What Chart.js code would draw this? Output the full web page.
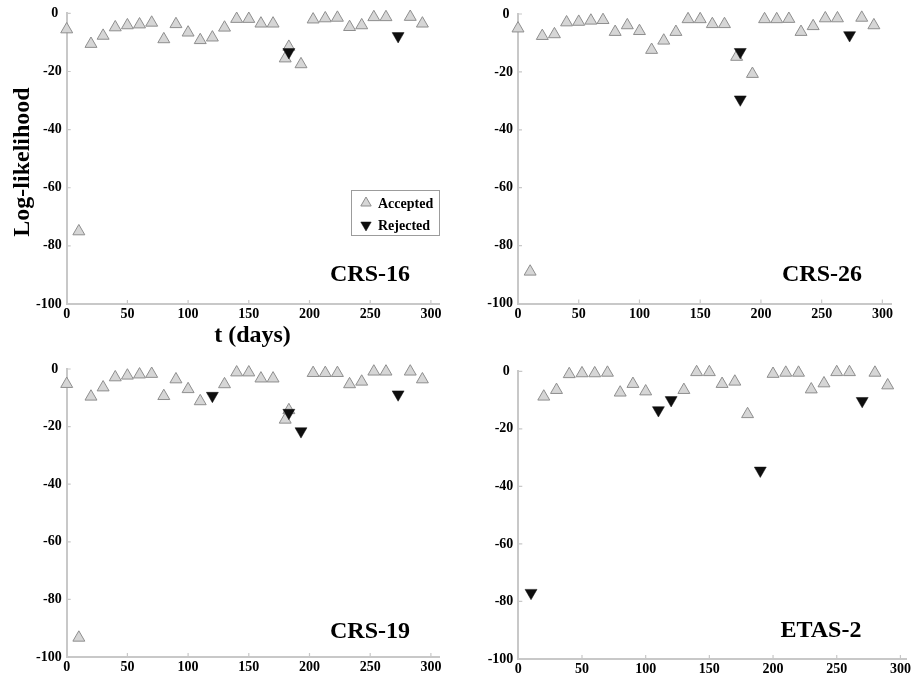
<!DOCTYPE html>
<html>
<head>
<meta charset="utf-8">
<script src="https://cdn.jsdelivr.net/npm/chart.js"></script>
<style>
  html, body { margin: 0; padding: 0; background: #ffffff; }
  #wrap { position: relative; width: 913px; height: 677px; overflow: hidden; background: #ffffff; }
  #wrap canvas { position: absolute; left: 0; top: 0; }
</style>
</head>
<body>
<div id="wrap">
  <canvas id="p1" width="913" height="677"></canvas>
  <canvas id="p2" width="913" height="677"></canvas>
  <canvas id="p3" width="913" height="677"></canvas>
  <canvas id="p4" width="913" height="677"></canvas>
</div>
<script>
// ---- data: log-likelihood of each forecast window, split by test outcome ----
const seriesLabels = ['Accepted', 'Rejected'];
const panelNames = ['CRS-16', 'CRS-26', 'CRS-19', 'ETAS-2'];
const xTicks = [0, 50, 100, 150, 200, 250, 300];
const yTicks = [-100, -80, -60, -40, -20, 0];

// CRS-16
const crs16AcceptedDays = [0, 10, 20, 30, 40, 50, 60, 70, 80, 90, 100, 110, 120, 130, 140, 150, 160, 170, 180, 183, 193, 203, 213, 223, 233, 243, 253, 263, 283, 293];
const crs16AcceptedLogL = [-5.5, -75, -10.5, -7.7, -4.8, -4.1, -3.8, -3.2, -8.9, -3.7, -6.6, -9.2, -8.3, -4.9, -1.9, -1.9, -3.5, -3.5, -15.5, -11.5, -17.5, -2.1, -1.7, -1.5, -4.7, -4.1, -1.3, -1.3, -1.2, -3.5];
const crs16RejectedDays = [183, 273];
const crs16RejectedLogL = [-13.3, -7.8];

// CRS-26
const crs26AcceptedDays = [0, 10, 20, 30, 40, 50, 60, 70, 80, 90, 100, 110, 120, 130, 140, 150, 160, 170, 180, 193, 203, 213, 223, 233, 243, 253, 263, 283, 293];
const crs26AcceptedLogL = [-5.0, -89, -7.6, -7.0, -2.9, -2.7, -2.3, -2.1, -6.2, -3.9, -5.9, -12.4, -9.2, -6.2, -1.8, -1.8, -3.5, -3.5, -14.8, -20.7, -1.8, -1.8, -1.7, -6.2, -4.2, -1.5, -1.5, -1.3, -3.9];
const crs26RejectedDays = [183, 183, 273];
const crs26RejectedLogL = [-13.1, -29.5, -7.3];

// CRS-19
const crs19AcceptedDays = [0, 10, 20, 30, 40, 50, 60, 70, 80, 90, 100, 110, 130, 140, 150, 160, 170, 180, 183, 203, 213, 223, 233, 243, 253, 263, 283, 293];
const crs19AcceptedLogL = [-5.2, -93.3, -9.6, -6.4, -2.9, -2.3, -1.9, -1.7, -9.4, -3.6, -7.0, -11.2, -5.3, -1.2, -1.2, -3.3, -3.3, -17.6, -14.3, -1.4, -1.4, -1.4, -5.3, -4.4, -0.9, -0.9, -0.9, -3.6];
const crs19RejectedDays = [120, 183, 193, 273];
const crs19RejectedLogL = [-9.3, -15.2, -21.6, -8.8];

// ETAS-2
const etas2AcceptedDays = [20, 30, 40, 50, 60, 70, 80, 90, 100, 130, 140, 150, 160, 170, 180, 200, 210, 220, 230, 240, 250, 260, 280, 290];
const etas2AcceptedLogL = [-8.8, -6.5, -1.0, -0.7, -0.7, -0.5, -7.4, -4.4, -7.0, -6.5, -0.3, -0.3, -4.4, -3.6, -14.9, -0.9, -0.5, -0.5, -6.3, -4.2, -0.3, -0.3, -0.5, -4.9];
const etas2RejectedDays = [10, 110, 120, 190, 270];
const etas2RejectedLogL = [-77, -13.5, -10.0, -34.5, -10.3];

// ---- styling ----
const FONT = '"Liberation Serif", "Times New Roman", Times, serif';
const AXIS_GREY = '#c8c8c8';
const ACC_FILL = '#d6d6d6';
const ACC_EDGE = '#8e8e8e';
const REJ_FILL = '#0e0e0e';
const MARKER_R = 6.9;
const CANVAS_W = 913, CANVAS_H = 677;
const Y_AXIS_W = 60, X_AXIS_H = 30;

function toPoints(days, values) {
  return days.map((t, i) => ({ x: t, y: values[i] }));
}

function triangle(ctx, x, y, r, rotDeg) {
  let a = rotDeg * Math.PI / 180;
  ctx.beginPath();
  for (let k = 0; k < 3; k++) {
    const px = x + Math.sin(a) * r, py = y - Math.cos(a) * r;
    if (k === 0) ctx.moveTo(px, py); else ctx.lineTo(px, py);
    a += 2 * Math.PI / 3;
  }
  ctx.closePath();
}

// inward tick marks, panel name, legend and shared axis titles
const framePlugin = {
  id: 'frame',
  beforeDatasetsDraw(chart) {
    const { ctx, chartArea: a, scales } = chart;
    ctx.save();
    ctx.strokeStyle = AXIS_GREY;
    ctx.lineWidth = 1.2;
    ctx.beginPath();
    xTicks.forEach(v => {
      const px = scales.x.getPixelForValue(v);
      ctx.moveTo(px, a.bottom);
      ctx.lineTo(px, a.bottom - 4);
    });
    yTicks.forEach(v => {
      const py = scales.y.getPixelForValue(v);
      ctx.moveTo(a.left, py);
      ctx.lineTo(a.left + 4, py);
    });
    ctx.stroke();
    ctx.restore();
  },
  afterDraw(chart, args, opts) {
    const ctx = chart.ctx;
    ctx.save();
    ctx.fillStyle = '#000';
    ctx.font = 'bold 24px ' + FONT;
    ctx.textAlign = 'center';
    ctx.textBaseline = 'alphabetic';
    ctx.fillText(opts.name, opts.nameX, opts.nameY);

    if (opts.legend) {
      const L = opts.legend;
      ctx.fillStyle = '#fff';
      ctx.fillRect(L.x, L.y, L.w, L.h);
      ctx.strokeStyle = '#9c9c9c';
      ctx.lineWidth = 1;
      ctx.strokeRect(L.x + 0.5, L.y + 0.5, L.w - 1, L.h - 1);
      chart.data.datasets.forEach((ds, i) => {
        const my = L.y + L.firstRow + i * L.rowGap;
        triangle(ctx, L.x + L.markerX, my, 6, ds.pointRotation || 0);
        ctx.fillStyle = ds.pointBackgroundColor;
        ctx.fill();
        if (ds.pointBorderWidth) {
          ctx.strokeStyle = ds.pointBorderColor;
          ctx.lineWidth = ds.pointBorderWidth;
          ctx.stroke();
        }
        ctx.fillStyle = '#000';
        ctx.font = 'bold 14px ' + FONT;
        ctx.textAlign = 'left';
        ctx.textBaseline = 'middle';
        ctx.fillText(ds.label, L.x + L.textX, my + 1);
      });
    }

    if (opts.xTitle) {
      ctx.fillStyle = '#000';
      ctx.font = 'bold 24px ' + FONT;
      ctx.textAlign = 'center';
      ctx.textBaseline = 'alphabetic';
      ctx.fillText(opts.xTitle.text, opts.xTitle.x, opts.xTitle.y);
    }
    if (opts.yTitle) {
      ctx.fillStyle = '#000';
      ctx.font = 'bold 24px ' + FONT;
      ctx.textAlign = 'center';
      ctx.textBaseline = 'alphabetic';
      ctx.translate(opts.yTitle.x, opts.yTitle.y);
      ctx.rotate(-Math.PI / 2);
      ctx.fillText(opts.yTitle.text, 0, 0);
    }
    ctx.restore();
  }
};

function makePanel(id, cfg) {
  const b = cfg.box;
  const tickFont = { family: FONT, size: 14, weight: 'bold' };
  return new Chart(document.getElementById(id), {
    type: 'scatter',
    data: {
      datasets: [
        {
          label: seriesLabels[0],
          data: toPoints(cfg.accDays, cfg.accLogL),
          pointStyle: 'triangle',
          pointRotation: 0,
          pointRadius: MARKER_R,
          pointBackgroundColor: ACC_FILL,
          pointBorderColor: ACC_EDGE,
          pointBorderWidth: 1,
          showLine: false,
          clip: false,
          order: 2
        },
        {
          label: seriesLabels[1],
          data: toPoints(cfg.rejDays, cfg.rejLogL),
          pointStyle: 'triangle',
          pointRotation: 180,
          pointRadius: MARKER_R,
          pointBackgroundColor: REJ_FILL,
          pointBorderColor: REJ_FILL,
          pointBorderWidth: 0.5,
          showLine: false,
          clip: false,
          order: 1
        }
      ]
    },
    options: {
      responsive: false,
      animation: false,
      devicePixelRatio: 1,
      events: [],
      layout: {
        autoPadding: false,
        padding: {
          left: b.left - Y_AXIS_W,
          top: b.top,
          right: CANVAS_W - b.right,
          bottom: CANVAS_H - b.bottom - X_AXIS_H
        }
      },
      plugins: {
        legend: { display: false },
        tooltip: { enabled: false },
        frame: cfg.frame
      },
      scales: {
        x: {
          type: 'linear',
          position: 'bottom',
          min: 0,
          max: cfg.xMax,
          afterFit: s => { s.height = X_AXIS_H; },
          afterBuildTicks: s => { s.ticks = xTicks.map(v => ({ value: v })); },
          grid: { display: false, drawTicks: false },
          border: { display: true, color: AXIS_GREY, width: 2 },
          ticks: { padding: 2, color: '#000', font: tickFont, maxRotation: 0, autoSkip: false }
        },
        y: {
          type: 'linear',
          position: 'left',
          min: -100,
          max: 0,
          afterFit: s => { s.width = Y_AXIS_W; },
          afterBuildTicks: s => { s.ticks = yTicks.map(v => ({ value: v })); },
          grid: { display: false, drawTicks: false },
          border: { display: true, color: AXIS_GREY, width: 2 },
          ticks: {
            padding: 5, color: '#000', font: tickFont, autoSkip: false,
            callback: v => (v === 0 ? '0 ' : String(v))
          }
        }
      }
    },
    plugins: [framePlugin]
  });
}

makePanel('p1', {
  box: { left: 66.7, top: 13.3, right: 440, bottom: 304 },
  xMax: 307.5,
  accDays: crs16AcceptedDays, accLogL: crs16AcceptedLogL,
  rejDays: crs16RejectedDays, rejLogL: crs16RejectedLogL,
  frame: {
    name: panelNames[0], nameX: 370, nameY: 281,
    legend: { x: 351, y: 190, w: 89, h: 46, markerX: 15, textX: 27, firstRow: 13, rowGap: 22 },
    xTitle: { text: 't (days)', x: 252.5, y: 342 },
    yTitle: { text: 'Log-likelihood', x: 29, y: 162 }
  }
});

makePanel('p2', {
  box: { left: 518, top: 14, right: 891.5, bottom: 303.5 },
  xMax: 307.5,
  accDays: crs26AcceptedDays, accLogL: crs26AcceptedLogL,
  rejDays: crs26RejectedDays, rejLogL: crs26RejectedLogL,
  frame: { name: panelNames[1], nameX: 822, nameY: 281 }
});

makePanel('p3', {
  box: { left: 66.7, top: 369, right: 440, bottom: 657 },
  xMax: 307.5,
  accDays: crs19AcceptedDays, accLogL: crs19AcceptedLogL,
  rejDays: crs19RejectedDays, rejLogL: crs19RejectedLogL,
  frame: { name: panelNames[2], nameX: 370, nameY: 638 }
});

makePanel('p4', {
  box: { left: 518.3, top: 371.3, right: 907.3, bottom: 659 },
  xMax: 304.5,
  accDays: etas2AcceptedDays, accLogL: etas2AcceptedLogL,
  rejDays: etas2RejectedDays, rejLogL: etas2RejectedLogL,
  frame: { name: panelNames[3], nameX: 821, nameY: 637 }
});
</script>
</body>
</html>
